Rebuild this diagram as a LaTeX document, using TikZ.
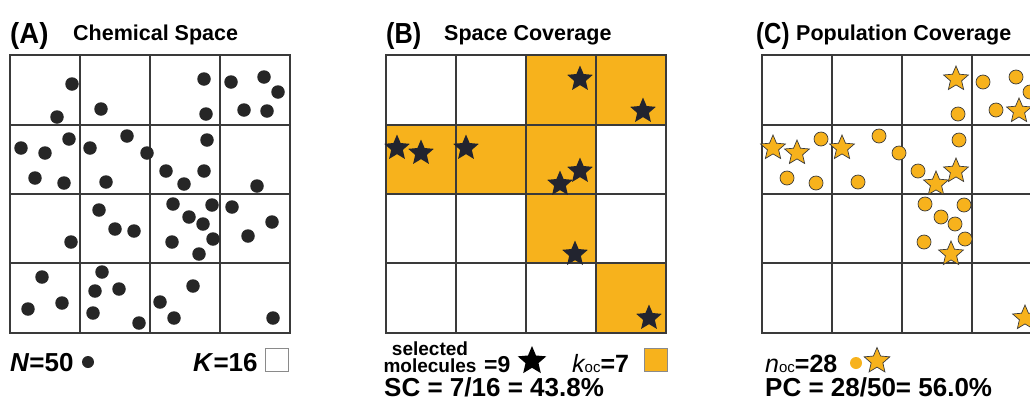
\documentclass[tikz,border=0pt]{standalone}
\usepackage{fontspec}
\setmainfont{Liberation Sans}
\usetikzlibrary{shapes.geometric}
\definecolor{orng}{HTML}{F7B21C}
\definecolor{dotc}{HTML}{262626}
\definecolor{starc}{HTML}{22242F}
\definecolor{gridc}{HTML}{3A3A3A}
\definecolor{boxc}{HTML}{8A8A8A}
\begin{document}
\begin{tikzpicture}[x=1pt,y=-1pt,
  dot/.style={circle,fill=dotc,inner sep=0pt,minimum size=13.5pt},
  bstar/.style={star,star points=5,star point ratio=2.2,fill=starc,inner sep=0pt,minimum size=27pt},
  cdot/.style={circle,fill=orng,draw=gridc,line width=0.7pt,inner sep=0pt,minimum size=14pt},
  cstar/.style={star,star points=5,star point ratio=2.2,fill=orng,draw=gridc,line width=0.7pt,inner sep=0pt,minimum size=26pt},
  gridline/.style={draw=gridc,line width=1.3pt},
  occ/.style={fill=orng},
  panel/.style={inner sep=0pt,anchor=base west,font=\bfseries\fontsize{29}{30}\selectfont},
  title/.style={inner sep=0pt,anchor=base west,font=\bfseries\fontsize{21.5}{22}\selectfont},
  lab/.style={inner sep=0pt,anchor=base west,font=\bfseries\fontsize{26}{27}\selectfont},
  small/.style={inner sep=0pt,anchor=base,font=\bfseries\fontsize{19}{19}\selectfont},
  legbox/.style={draw=boxc,line width=0.8pt,minimum width=23pt,minimum height=23pt,inner sep=0pt},
]
\useasboundingbox (0,0) rectangle (1030,410);
\clip (0,0) rectangle (1030,410);
\def\nlist{72/84,57/117,101/109,257/186,71/242,99/210,115/229,134/231,232/207,272/222,248/236,42/277,28/309,62/303,102/272,95/291,119/289,93/313,139/323,160/302,174/318,193/286}
\def\olist{206/114,231/82,264/77,278/92,244/110,69/139,35/178,64/183,127/136,147/153,106/182,207/140,166/171,173/204,189/217,203/224,212/205,213/239,172/242}
\def\slist{204/79,267/111,21/148,45/153,90/148,184/184,204/171,199/254,273/318}

% titles
\node[panel] (tA) at (10,43) {\scalebox{0.95}[1]{(A)}};
\node[title] (sA) at (73,40) {Chemical Space};
\node[panel] (tB) at (386,43) {\scalebox{0.87}[1]{(B)}};
\node[title] (sB) at (444,40) {Space Coverage};
\node[panel] (tC) at (756,43) {\scalebox{0.83}[1]{(C)}};
\node[title] (sC) at (796,40) {Population Coverage};

% occupied cells in B
\fill[occ] (527,55) rectangle (666,125);
\fill[occ] (386,125) rectangle (596,194);
\fill[occ] (527,194) rectangle (596,263);
\fill[occ] (596,263) rectangle (666,333);

% grids
\foreach \ox in {0,376,752}{
  \draw[gridline] (10+\ox,55) rectangle (290+\ox,333);
  \foreach \gx in {80,150,220} \draw[gridline] (\gx+\ox,55) -- (\gx+\ox,333);
  \foreach \gy in {125,194,263} \draw[gridline] (10+\ox,\gy) -- (290+\ox,\gy);
}

% panel A: all molecules
\foreach \x/\y [count=\i] in \nlist \node[dot] (an\i) at (\x,\y) {};
\foreach \x/\y [count=\i] in \olist \node[dot] (ao\i) at (\x,\y) {};
\foreach \x/\y [count=\i] in \slist \node[dot] (as\i) at (\x,\y) {};

% panel B: selected molecules
\foreach \x/\y [count=\i] in \slist \node[bstar] (bs\i) at (\x+376,\y) {};

% panel C: molecules in occupied cells
\foreach \x/\y [count=\i] in \olist \node[cdot] (co\i) at (\x+752,\y) {};
\foreach \x/\y [count=\i] in \slist \node[cstar] (cs\i) at (\x+752,\y) {};

% legends A
\node[lab] (NA) at (10,371) {\textit{N}=50};
\node[dot,minimum size=12pt] (NAdot) at (88,362) {};
\node[lab] (KA) at (193,371) {\textit{K}=16};
\node[legbox,fill=white] (KAbox) at (276.5,360) {};

% legends B
\node[small] (sel) at (430,355) {selected};
\node[small] (mol) at (430,372) {molecules};
\node[lab,font=\bfseries\fontsize{23}{23}\selectfont] (nine) at (484,372) {=9};
\node[bstar,fill=black,minimum size=30pt] (legstar) at (532,361) {};
\node[lab,font=\bfseries\fontsize{25}{25}\selectfont] (koc) at (572,372) {{\mdseries\itshape k}{\mdseries\fontsize{15}{15}\selectfont oc}=7};
\node[legbox,fill=orng] (kbox) at (655.5,360) {};
\node[lab] (SC) at (384,396) {SC = 7/16 = 43.8\%};

% legends C
\node[lab,font=\bfseries\fontsize{25}{25}\selectfont] (noc) at (765,372) {{\mdseries\itshape n}{\mdseries\fontsize{15}{15}\selectfont oc}=28};
\node[circle,fill=orng,inner sep=0pt,minimum size=12pt] (legcdot) at (856,363) {};
\node[cstar,minimum size=27pt] (legcstar) at (877,361) {};
\node[lab] (PC) at (765,396) {PC = 28/50= 56.0\%};
\end{tikzpicture}
\end{document}
